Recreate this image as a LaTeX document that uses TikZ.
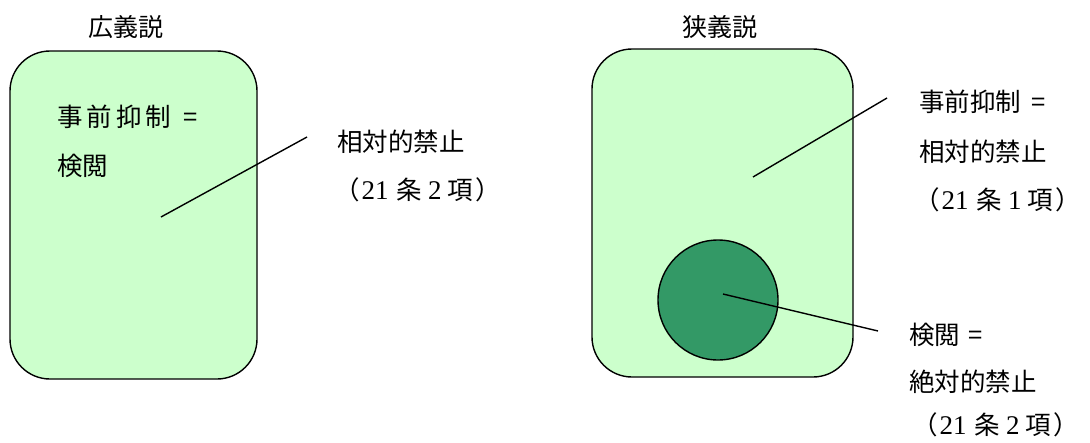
\documentclass[tikz,border=0pt]{standalone}
\usepackage{fontspec}
\setmainfont{Liberation Serif}
\newfontfamily\jp{Noto Sans CJK JP}
\newfontfamily\sn{Liberation Serif}
\definecolor{lightg}{HTML}{CCFFCC}
\definecolor{darkg}{HTML}{339966}
\tikzset{
  lbl/.style={anchor=west,inner sep=0pt,font=\jp\fontsize{25.5}{28}\selectfont},
  ttl/.style={inner sep=0pt,font=\jp\fontsize{25}{28}\selectfont},
  area/.style={draw=black,line width=1.4pt,fill=lightg,rounded corners=40pt},
  ptr/.style={draw=black,line width=1.4pt},
}
\newcommand{\nm}[1]{{\sn\fontsize{27}{28}\selectfont #1}}
\newcommand{\art}[2]{（\hspace{2pt}\nm{#1}\hspace{8pt}条\hspace{6pt}\nm{#2}\hspace{6pt}項\hspace{2pt}）}
\begin{document}
\begin{tikzpicture}[x=1pt,y=-1pt]
\useasboundingbox (0,0) rectangle (1090,442);
% left
\node[ttl] (t1) at (126,27) {広義説};
\draw[area] (10,51) rectangle (257,379);
\node[lbl] (a1) at (57,117) {事\hspace{4pt}前\hspace{4pt}抑\hspace{4pt}制\hspace{12pt}=};
\node[lbl] (a2) at (57,166) {検閲};
\coordinate (p1) at (161,217);
\coordinate (q1) at (307,137);
\draw[ptr] (p1) -- (q1);
\node[lbl] (b1) at (337,142) {相対的禁止};
\node[lbl] (b2) at (334,190) {\art{21}{2}};
% right
\node[ttl] (t2) at (720,27) {狭義説};
\draw[area] (592,49) rectangle (853,377);
\node[circle,draw=black,line width=1.4pt,fill=darkg,minimum size=120pt,inner sep=0pt] (c) at (718,300) {};
\coordinate (p2) at (753,177);
\coordinate (q2) at (887,98);
\draw[ptr] (p2) -- (q2);
\coordinate (p3) at (723,294);
\coordinate (q3) at (878,331);
\draw[ptr] (p3) -- (q3);
\node[lbl] (r1) at (919,102) {事前抑制\hspace{10pt}=};
\node[lbl] (r2) at (919,152) {相対的禁止};
\node[lbl] (r3) at (914,200) {\art{21}{1}};
\node[lbl] (s1) at (909,335) {検閲\hspace{8pt}=};
\node[lbl] (s2) at (909,382) {絶対的禁止};
\node[lbl] (s3) at (912,425) {\art{21}{2}};
\end{tikzpicture}
\end{document}
